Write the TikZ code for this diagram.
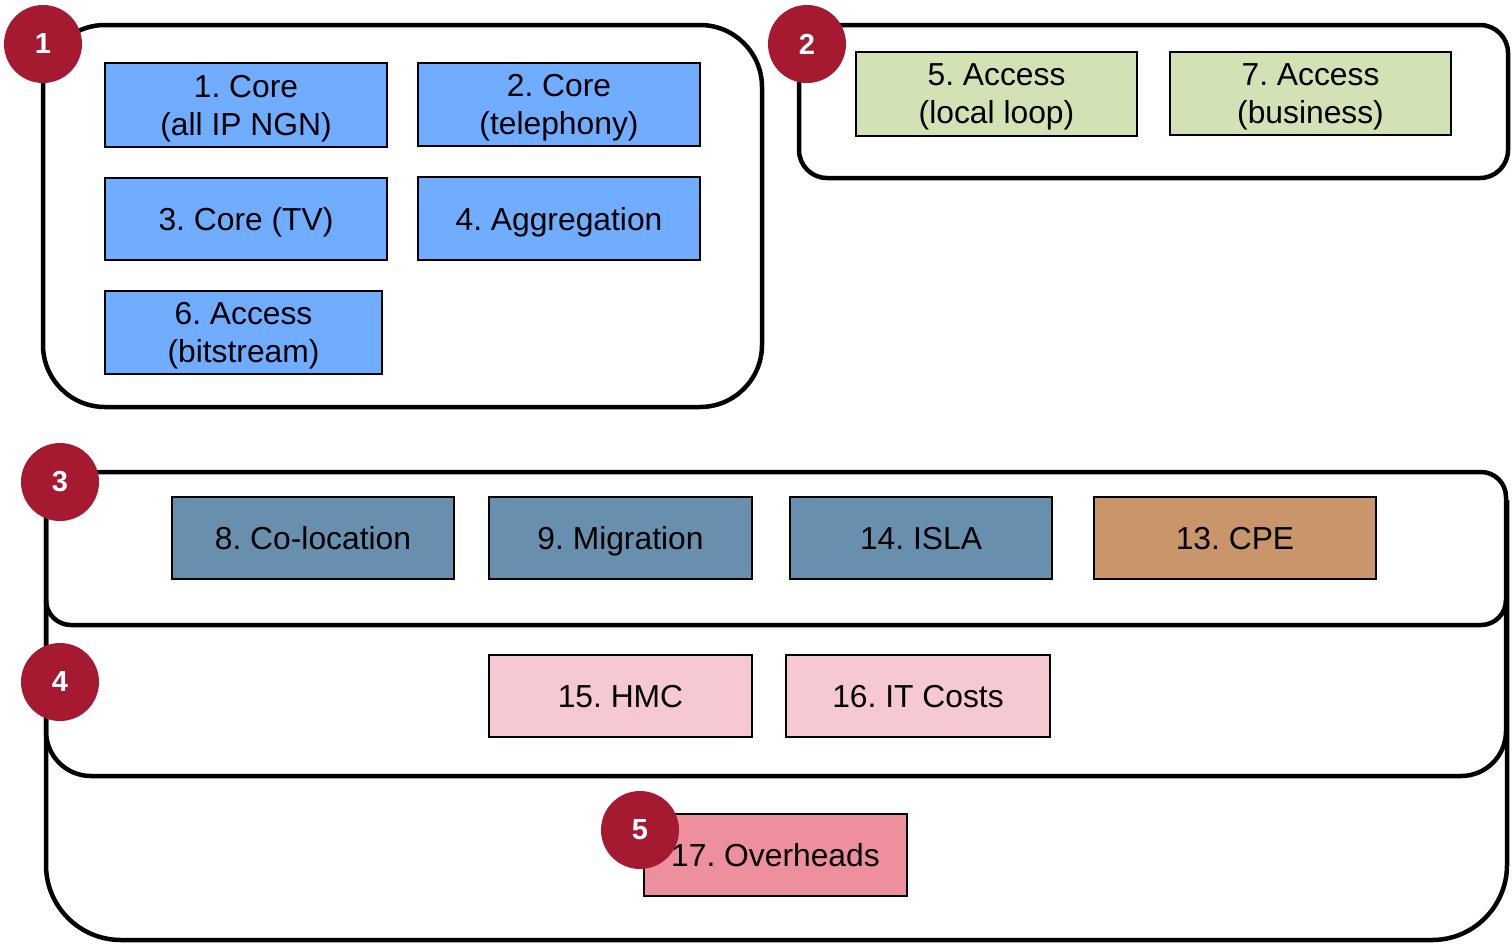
\documentclass[tikz,border=0pt]{standalone}
\usepackage{fontspec}
\setmainfont{Liberation Sans}
\frenchspacing
\begin{document}
\begin{tikzpicture}[x=1pt,y=-1pt,
  group/.style={draw=black,line width=4.5pt,rounded corners=#1},
  item/.style={draw=black,line width=2pt,align=center,inner sep=0pt,text depth=0pt,
    font=\fontsize{31.8}{38}\selectfont},
  badge/.style={circle,fill=badgered,text=white,minimum size=78pt,inner sep=0pt,
    font=\fontsize{29}{30}\selectfont\bfseries}]
\definecolor{badgered}{HTML}{A51931}
\definecolor{coreblue}{HTML}{70ACFF}
\definecolor{accgreen}{HTML}{D3E2B4}
\definecolor{slate}{HTML}{6890AE}
\definecolor{cpe}{HTML}{C8966A}
\definecolor{lightpink}{HTML}{F6C8D2}
\definecolor{rosepink}{HTML}{EE8F9D}
\useasboundingbox (0,0) rectangle (1512,943);

% group frames
\draw[group=28pt] (799,25) rectangle (1508,178);
\draw[group=62pt] (43,25) rectangle (762,407);
\draw[group=75pt] (46,500) -- (46,940) -- (1507,940) -- (1507,500);
\draw[group=45pt] (46,600) -- (46,776) -- (1506,776) -- (1506,600);
\draw[group=25pt] (46,472) rectangle (1506,625);

% cost items
\node[item,fill=coreblue,minimum width=282pt,minimum height=84pt] (c1) at (246,105) {1. Core\\(all IP NGN)};
\node[item,fill=coreblue,minimum width=282pt,minimum height=83pt] (c2) at (559,104.5) {2. Core\\(telephony)};
\node[item,fill=coreblue,minimum width=282pt,minimum height=82pt] (c3) at (246,219) {3. Core (TV)};
\node[item,fill=coreblue,minimum width=282pt,minimum height=83pt] (c4) at (559,218.5) {4. Aggregation};
\node[item,fill=coreblue,minimum width=277pt,minimum height=83pt] (c6) at (243.5,332.5) {6. Access\\(bitstream)};
\node[item,fill=accgreen,minimum width=281pt,minimum height=84pt] (c5) at (996.5,94) {5. Access\\(local loop)};
\node[item,fill=accgreen,minimum width=281pt,minimum height=83pt] (c7) at (1310.5,93.5) {7. Access\\(business)};
\node[item,fill=slate,minimum width=282pt,minimum height=82pt] (c8) at (313,538) {8. Co-location};
\node[item,fill=slate,minimum width=263pt,minimum height=82pt] (c9) at (620.5,538) {9. Migration};
\node[item,fill=slate,minimum width=262pt,minimum height=82pt] (c14) at (921,538) {14. ISLA};
\node[item,fill=cpe,minimum width=282pt,minimum height=82pt] (c13) at (1235,538) {13. CPE};
\node[item,fill=lightpink,minimum width=263pt,minimum height=82pt] (c15) at (620.5,696) {15. HMC};
\node[item,fill=lightpink,minimum width=264pt,minimum height=82pt] (c16) at (918,696) {16. IT Costs};
\node[item,fill=rosepink,minimum width=263pt,minimum height=82pt] (c17) at (775.5,855) {17. Overheads};

% numbered badges
\node[badge] (b1) at (43,44) {1};
\node[badge] (b2) at (807,44) {2};
\node[badge] (b3) at (60,482) {3};
\node[badge] (b4) at (60,682) {4};
\node[badge] (b5) at (640,830) {5};
\end{tikzpicture}
\end{document}
